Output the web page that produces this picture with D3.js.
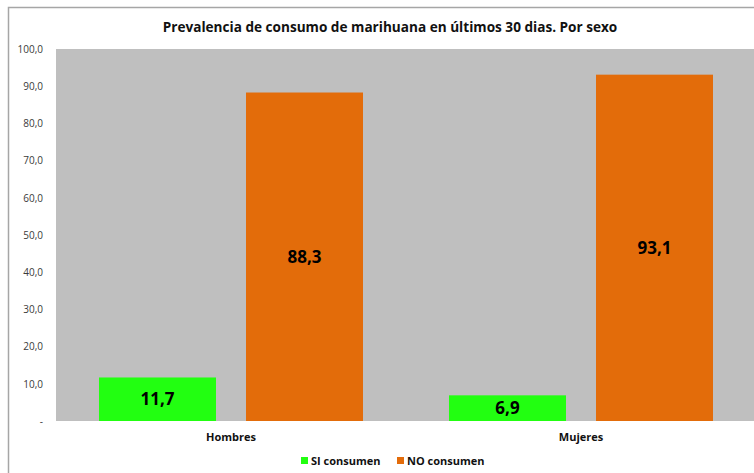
<!DOCTYPE html>
<html>
<head>
<meta charset="utf-8">
<script src="https://cdn.jsdelivr.net/npm/d3@7"></script>
<style>
  body { margin: 0; background: #fff; }
  text { font-family: "Open Sans", sans-serif; }
</style>
</head>
<body>
<script>
var width = 754, height = 473;

var categories = ["Hombres", "Mujeres"];
var series = ["SI consumen", "NO consumen"];
var si_values = [11.7, 6.9];
var no_values = [88.3, 93.1];
var tick_values = [0, 10, 20, 30, 40, 50, 60, 70, 80, 90, 100];

var color_bg = "#bfbfbf";
var colors = ["#22ff11", "#e36c0a"];

var plotL = 56, plotR = 756, plotT = 49, plotB = 421;

var data = categories.map(function(c, i) {
  return { cat: c, vals: [si_values[i], no_values[i]] };
});

var svg = d3.select("body").append("svg")
  .attr("width", width)
  .attr("height", height);

// outer frame (only top and left edges are visible)
svg.append("path")
  .attr("d", "M8.5," + height + "V7.5H" + width)
  .attr("fill", "none").attr("stroke", "#a6a6a6").attr("stroke-width", 1.5);

svg.append("text")
  .attr("x", 390).attr("y", 32)
  .attr("text-anchor", "middle")
  .attr("font-size", 13.6).attr("font-weight", "bold").attr("fill", "#111")
  .text("Prevalencia de consumo de marihuana en últimos 30 dias. Por sexo");

var x0 = d3.scaleBand().domain(categories).range([plotL, plotR]);
var x1 = d3.scaleBand().domain(series).range([43, x0.bandwidth() - 43]).paddingInner(30 / 147);
var y = d3.scaleLinear().domain([0, 100]).range([plotB, plotT]);

svg.append("rect")
  .attr("x", plotL).attr("y", plotT)
  .attr("width", plotR - plotL).attr("height", plotB - plotT)
  .attr("fill", color_bg);

var yAxis = svg.append("g")
  .attr("transform", "translate(" + (plotL - 10) + ",0)")
  .call(d3.axisLeft(y).tickValues(tick_values).tickSize(0)
    .tickFormat(function(d) { return d === 0 ? "-" : d.toFixed(1).replace(".", ","); }));
yAxis.select(".domain").remove();
yAxis.selectAll("text").attr("font-size", 10).attr("fill", "#3a3a3a")
  .attr("font-family", "Open Sans, sans-serif");

var groups = svg.selectAll("g.grp").data(data)
  .enter().append("g").attr("class", "grp")
  .attr("transform", function(d) { return "translate(" + x0(d.cat) + ",0)"; });

groups.selectAll("rect").data(function(d) {
    return d.vals.map(function(v, j) { return { s: series[j], v: v, j: j }; });
  })
  .enter().append("rect")
  .attr("x", function(d) { return x1(d.s); })
  .attr("y", function(d) { return y(d.v); })
  .attr("width", x1.bandwidth())
  .attr("height", function(d) { return y(0) - y(d.v); })
  .attr("fill", function(d) { return colors[d.j]; });

groups.selectAll("text.lbl").data(function(d) {
    return d.vals.map(function(v, j) { return { s: series[j], v: v }; });
  })
  .enter().append("text").attr("class", "lbl")
  .attr("x", function(d) { return x1(d.s) + x1.bandwidth() / 2; })
  .attr("y", function(d) { return (y(d.v) + y(0)) / 2 + 6; })
  .attr("text-anchor", "middle")
  .attr("font-size", 17).attr("font-weight", "bold").attr("fill", "#000")
  .text(function(d) { return d.v.toFixed(1).replace(".", ","); });

svg.selectAll("text.cat").data(categories)
  .enter().append("text").attr("class", "cat")
  .attr("x", function(d) { return x0(d) + x0.bandwidth() / 2; })
  .attr("y", 441)
  .attr("text-anchor", "middle")
  .attr("font-size", 11).attr("font-weight", "bold").attr("fill", "#111")
  .text(function(d) { return d; });

var legend = svg.append("g").attr("transform", "translate(301,465)");
var legX = [0, 96];
series.forEach(function(s, i) {
  legend.append("rect").attr("x", legX[i]).attr("y", -8)
    .attr("width", 7).attr("height", 7).attr("fill", colors[i]);
  legend.append("text").attr("x", legX[i] + 10).attr("y", 0)
    .attr("font-size", 11).attr("font-weight", "bold").attr("fill", "#111")
    .text(s);
});
</script>
</body>
</html>
